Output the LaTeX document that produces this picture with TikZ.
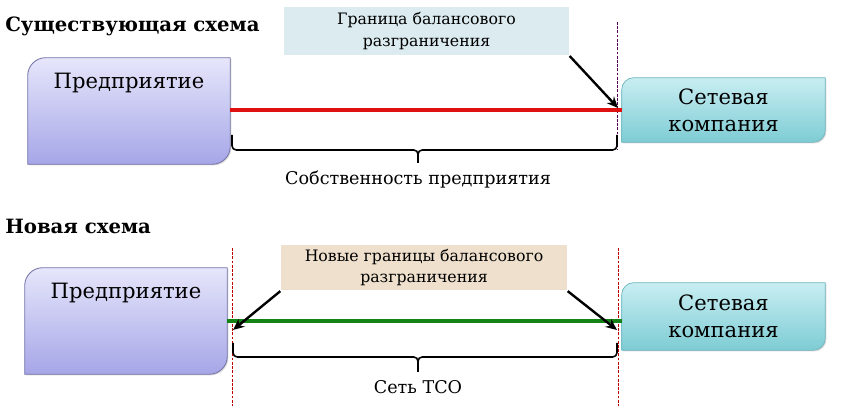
\documentclass[tikz,border=0pt]{standalone}
\usepackage{fontspec}
\setmainfont{DejaVu Serif}
\usetikzlibrary{positioning,shadows,arrows.meta,calc}

\definecolor{entTop}{RGB}{230,230,251}
\definecolor{entBot}{RGB}{166,166,232}
\definecolor{entLine}{RGB}{118,118,168}
\definecolor{netTop}{RGB}{200,238,242}
\definecolor{netBot}{RGB}{126,204,212}
\definecolor{netLine}{RGB}{112,182,190}
\definecolor{calloutBlue}{RGB}{219,235,240}
\definecolor{calloutSand}{RGB}{238,224,204}
\definecolor{lineRed}{RGB}{222,16,16}
\definecolor{lineGreen}{RGB}{20,130,20}

% box with two rounded corners (top left, bottom right)
\newcommand{\diagbox}[3]{%
  \path[#2] ($(#1.north west)+(0,-#3)$) arc[start angle=180,end angle=90,radius=#3]
    -- (#1.north east) -- ($(#1.south east)+(0,#3)$)
    arc[start angle=0,end angle=-90,radius=#3] -- (#1.south west) -- cycle;}

\tikzset{
  headline/.style={anchor=west, font=\fontsize{14}{17}\selectfont\bfseries, inner sep=0pt},
  entbox/.style={minimum width=5.05cm, minimum height=2.65cm, inner sep=0pt},
  netbox/.style={minimum width=5.075cm, minimum height=1.6cm, inner sep=0pt,
    align=center, font=\fontsize{15}{19}\selectfont},
  boxtext/.style={font=\fontsize{15}{19}\selectfont, inner sep=0pt},
  entfill/.style={draw=entLine, line width=0.6pt, top color=entTop, bottom color=entBot,
    drop shadow={opacity=0.3, shadow xshift=0.8pt, shadow yshift=-0.8pt}},
  netfill/.style={draw=netLine, line width=0.5pt, top color=netTop, bottom color=netBot,
    drop shadow={opacity=0.3, shadow xshift=0.8pt, shadow yshift=-0.8pt}},
  callout/.style={draw=white, line width=1.5pt, align=center, inner sep=0pt,
    minimum width=7.175cm, minimum height=1.27cm, font=\fontsize{11.2}{15.5}\selectfont,
    drop shadow={opacity=0.35, shadow xshift=0.7pt, shadow yshift=-0.7pt}},
  pointer/.style={-{Stealth[length=8pt,width=7pt]}, line width=1.7pt, black},
  bracket/.style={line width=1.1pt, rounded corners=3pt},
  bracetext/.style={font=\fontsize{12.5}{15}\selectfont, inner sep=0pt},
  limit/.style={line width=0.5pt, dashed, dash pattern=on 2pt off 1pt}
}

\begin{document}
\begin{tikzpicture}[x=0.025cm, y=0.025cm]
\useasboundingbox (0,0) rectangle (844,406);

% --- existing scheme ---
\node[headline] (title1) at (5,380) {Существующая схема};

\node[entbox] (pr1) at (129,295) {};
\diagbox{pr1}{entfill}{0.45cm}
\node[boxtext, below=0.38cm of pr1.north] (pr1txt) {Предприятие};

\node[netbox] (net1) at (723.5,296) {};
\diagbox{net1}{netfill}{0.3cm}
\node[netbox] (net1txt) at (net1) {Сетевая\\компания};

\node[callout, fill=calloutBlue] (cb1) at (426.5,375) {Граница балансового\\разграничения};

\draw[limit, violet!70!black] (617,384) coordinate (b1top) -- (617,256) coordinate (b1bot);
\draw[lineRed, line width=2.2pt] (pr1.east |- net1.west) -- (net1.west);
\draw[pointer] ([xshift=-1pt,yshift=1pt]cb1.south east) -- (618,298) coordinate (tip1);

\coordinate (br1l) at (232,271);
\coordinate (br1r) at (617,271);
\coordinate (br1m) at (418,243);
\draw[bracket] (br1l) |- (br1m |- 0,256) -- (br1m);
\draw[bracket] (br1r) |- (br1m |- 0,256) -- (br1m);
\node[bracetext, below=0.2cm of br1m] (own) {Собственность предприятия};

% --- new scheme ---
\node[headline] (title2) at (5,180) {Новая схема};

\node[entbox] (pr2) at (126,85) {};
\diagbox{pr2}{entfill}{0.45cm}
\node[boxtext, below=0.38cm of pr2.north] (pr2txt) {Предприятие};

\node[netbox, minimum height=1.675cm] (net2) at (723.5,89.5) {};
\diagbox{net2}{netfill}{0.3cm}
\node[netbox] (net2txt) at (net2) {Сетевая\\компания};

\draw[limit, red!75!black] (232,158) coordinate (lim2l) -- (232,0);
\draw[limit, red!75!black] (618,158) coordinate (lim2r) -- (618,0);

\node[callout, fill=calloutSand, minimum width=7.2cm, minimum height=1.2cm] (cb2) at (424,138.5) {Новые границы балансового\\разграничения};

\draw[lineGreen, line width=2.2pt] (pr2.east) -- (pr2.east -| net2.west);
\draw[pointer] ([xshift=1pt,yshift=1pt]cb2.south west) -- (233,76) coordinate (tip2l);
\draw[pointer] ([xshift=-1pt,yshift=1pt]cb2.south east) -- (617,76) coordinate (tip2r);

\coordinate (br2l) at (233,63);
\coordinate (br2r) at (617,63);
\coordinate (br2m) at (418,34);
\draw[bracket] (br2l) |- (br2m |- 0,49) -- (br2m);
\draw[bracket] (br2r) |- (br2m |- 0,49) -- (br2m);
\node[bracetext, below=0.2cm of br2m] (tso) {Сеть ТСО};
\end{tikzpicture}
\end{document}
